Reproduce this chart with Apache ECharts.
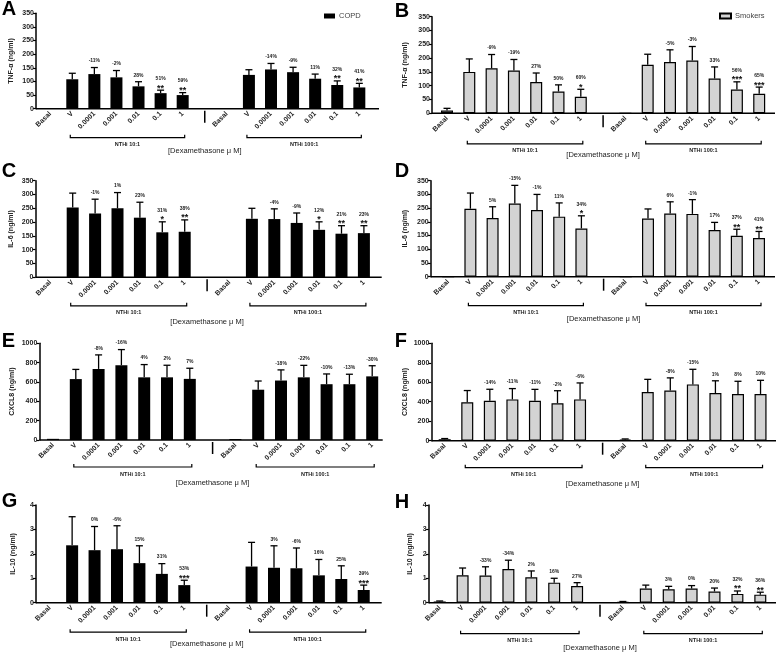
<!DOCTYPE html>
<html><head><meta charset="utf-8">
<script src="https://cdn.jsdelivr.net/npm/echarts@6/dist/echarts.min.js"></script>
<style>html,body{margin:0;padding:0;background:#fff}#c{width:778px;height:653px}</style>
</head><body><div id="c"></div>
<script>
// ---------- data ----------
const categories = ['Basal','V','0.0001','0.001','0.01','0.1','1','','Basal','V','0.0001','0.001','0.01','0.1','1'];
const groupLabels = ['NTHi 10:1', 'NTHi 100:1'];
const xTitle = '[Dexamethasone \u03bc M]';

// A: TNF-alpha, COPD
const A_mean = [0,108,127,115,82,57,50,null,0,124,144,134,110,87,78];
const A_err  = [null,130,151,140,99,68,59,null,null,143,166,152,127,102,93];
const A_pct  = ['','','-11%','-2%','28%','51%','59%','','','','-14%','-9%','11%','32%','41%'];
const A_sig  = ['','','','','','**','**','','','','','','','**','**'];
// B: TNF-alpha, Smokers
const B_mean = [10,150,163,155,113,79,60,null,0,176,186,191,126,86,71];
const B_err  = [18,197,213,195,146,103,87,null,null,214,230,242,168,114,95];
const B_pct  = ['','','-9%','-19%','27%','50%','60%','','','','-5%','-3%','33%','56%','65%'];
const B_sig  = ['','','','','','','*','','','','','','','***','***'];
// C: IL-6, COPD
const C_mean = [0,253,231,250,216,163,165,null,0,212,211,197,172,158,160];
const C_err  = [null,305,283,307,272,201,208,null,null,250,248,233,201,187,187];
const C_pct  = ['','','-1%','1%','23%','31%','38%','','','','-4%','-9%','12%','21%','23%'];
const C_sig  = ['','','','','','*','**','','','','','','*','**','**'];
// D: IL-6, Smokers
const D_mean = [0,248,214,267,243,219,176,null,0,212,230,229,170,149,141];
const D_err  = [null,305,255,333,300,269,222,null,null,247,273,281,198,173,165];
const D_pct  = ['','','5%','-15%','-1%','11%','34%','','','','6%','-1%','17%','37%','41%'];
const D_sig  = ['','','','','','','*','','','','','','','**','**'];
// E: CXCL8, COPD
const E_mean = [12,630,735,773,648,648,632,null,10,520,615,648,577,577,658];
const E_err  = [null,730,880,935,780,773,742,null,null,610,725,772,683,680,768];
const E_pct  = ['','','-8%','-16%','4%','2%','7%','','','','-18%','-22%','-10%','-13%','-30%'];
const E_sig  = ['','','','','','','','','','','','','','',''];
// F: CXCL8, Smokers
const F_mean = [15,395,410,424,409,385,424,null,12,500,515,578,490,480,480];
const F_err  = [22,515,528,535,527,513,593,null,18,630,645,733,615,610,620];
const F_pct  = ['','','-14%','-11%','-11%','-2%','-6%','','','','-8%','-15%','1%','8%','10%'];
const F_sig  = ['','','','','','','','','','','','','','',''];
// G: IL-10, COPD
const G_mean = [0,2.35,2.15,2.19,1.62,1.18,0.72,null,0,1.48,1.43,1.41,1.12,0.97,0.52];
const G_err  = [null,3.52,3.12,3.15,2.33,1.60,0.92,null,null,2.47,2.33,2.24,1.77,1.51,0.72];
const G_pct  = ['','','0%','-6%','15%','31%','53%','','','','3%','-6%','16%','25%','39%'];
const G_sig  = ['','','','','','','***','','','','','','','','***'];
// H: IL-10, Smokers
const H_mean = [0.05,1.12,1.11,1.38,1.04,0.82,0.68,null,0.03,0.58,0.55,0.58,0.46,0.36,0.33];
const H_err  = [0.07,1.42,1.47,1.74,1.30,1.00,0.82,null,0.05,0.72,0.67,0.70,0.60,0.48,0.43];
const H_pct  = ['','','-33%','-34%','2%','16%','27%','','','','3%','0%','20%','32%','36%'];
const H_sig  = ['','','','','','','','','','','','','','**','**'];

const yNames = ['TNF-\u03b1 (ng/ml)','TNF-\u03b1 (ng/ml)','IL-6 (ng/ml)','IL-6 (ng/ml)','CXCL8 (ng/ml)','CXCL8 (ng/ml)','IL-10 (ng/ml)','IL-10 (ng/ml)'];
const yMax = [350,350,350,350,1000,1000,4,4];
const yStep = [50,50,50,50,200,200,1,1];
const letters = ['A','B','C','D','E','F','G','H'];
const groups = ['COPD','Smokers','COPD','Smokers','COPD','Smokers','COPD','Smokers'];

const panels = [
  {mean:A_mean, err:A_err, pct:A_pct, sig:A_sig},
  {mean:B_mean, err:B_err, pct:B_pct, sig:B_sig},
  {mean:C_mean, err:C_err, pct:C_pct, sig:C_sig},
  {mean:D_mean, err:D_err, pct:D_pct, sig:D_sig},
  {mean:E_mean, err:E_err, pct:E_pct, sig:E_sig},
  {mean:F_mean, err:F_err, pct:F_pct, sig:F_sig},
  {mean:G_mean, err:G_err, pct:G_pct, sig:G_sig},
  {mean:H_mean, err:H_err, pct:H_pct, sig:H_sig}
];

// ---------- layout (positions only) ----------
const layout = [
  {axisX:36,    first:50.2,  step:22.08, top:13.3,  zero:108.7, end:379,   gap:21, br:29,   dx:42, lx:1.7,   ly:9.5},
  {axisX:432,   first:447,   step:22.3,  top:16.7,  zero:113.3, end:775,   gap:23, br:30.5, dx:42, lx:394.7, ly:11},
  {axisX:35.5,  first:50.3,  step:22.4,  top:180.7, zero:277.3, end:381.7, gap:21, br:28.5, dx:45, lx:1.7,   ly:171},
  {axisX:430.7, first:448.2, step:22.2,  top:180.7, zero:276.7, end:775,   gap:22, br:29,   dx:42, lx:394.7, ly:171},
  {axisX:39.3,  first:53,    step:22.8,  top:343.3, zero:440,   end:382.7, gap:24, br:27,   dx:43, lx:1.7,   ly:341},
  {axisX:431.3, first:444.7, step:22.56, top:343.3, zero:440.7, end:776,   gap:23, br:27,   dx:43, lx:394.7, ly:341},
  {axisX:36,    first:49.7,  step:22.43, top:505,   zero:602.7, end:381.7, gap:19, br:29.5, dx:41.5, lx:1.7, ly:501},
  {axisX:428.7, first:439.7, step:22.9,  top:505,   zero:602.7, end:776,   gap:15, br:31,   dx:45, lx:394.7, ly:502}
];

const FF = "'Liberation Sans', Arial, sans-serif";
const chart = echarts.init(document.getElementById('c'), null, {renderer:'canvas'});

const grid = [], xAxis = [], yAxis = [], series = [];
panels.forEach((P, i) => {
  const L = layout[i];
  const gl = L.first - L.step / 2;
  grid.push({left: gl, top: L.top, width: 15 * L.step, height: L.zero - L.top, outerBoundsMode: 'none'});
  xAxis.push({
    type:'category', gridIndex:i, data:categories,
    axisLine:{show:false}, axisTick:{show:false},
    axisLabel:{interval:0, rotate:45, fontSize:7, fontWeight:'bold', color:'#222', margin:4, fontFamily:FF}
  });
  yAxis.push({
    type:'value', gridIndex:i, min:0, max:yMax[i], interval:yStep[i], offset: gl - L.axisX,
    splitLine:{show:false},
    axisLine:{show:true, lineStyle:{color:'#000', width:1.5}},
    axisTick:{show:true, length:3, lineStyle:{color:'#000', width:1.2}},
    axisLabel:{fontSize:7, fontWeight:'bold', color:'#222', margin:2, fontFamily:FF, formatter: v => String(v)},
    name: yNames[i], nameLocation:'middle', nameGap: L.gap,
    nameTextStyle:{fontSize:7, fontWeight:'bold', color:'#222', fontFamily:FF}
  });
  const smk = groups[i] === 'Smokers';
  series.push({
    type:'bar', name: groups[i], xAxisIndex:i, yAxisIndex:i, data:P.mean, barWidth:12, silent:true,
    itemStyle:{color: smk ? '#d3d3d3' : '#000', borderColor:'#000', borderWidth: smk ? 1.2 : 0}
  });
  const ed = [];
  P.err.forEach((e, k) => { if (e != null) ed.push([k, P.mean[k], e]); });
  series.push({
    type:'custom', xAxisIndex:i, yAxisIndex:i, data:ed, silent:true, z:5,
    encode:{x:0, y:[1,2]},
    renderItem: (params, api) => {
      const k = api.value(0);
      const p0 = api.coord([k, api.value(1)]);
      const p1 = api.coord([k, api.value(2)]);
      const ch = [
        {type:'line', shape:{x1:p0[0], y1:p0[1], x2:p1[0], y2:p1[1]}, style:{stroke:'#000', lineWidth:1.3}},
        {type:'line', shape:{x1:p1[0]-3.5, y1:p1[1], x2:p1[0]+3.5, y2:p1[1]}, style:{stroke:'#000', lineWidth:1.3}}
      ];
      const s = P.sig[k], t = P.pct[k];
      if (s) ch.push({type:'text', style:{text:s, x:p1[0], y:p1[1]-2, align:'center', verticalAlign:'middle',
        fontSize:9, fontWeight:'bold', fontFamily:FF, fill:'#111'}});
      if (t) ch.push({type:'text', style:{text:t, x:p1[0], y:p1[1] - (s ? 11.5 : 6.5), align:'center', verticalAlign:'middle',
        fontSize:5, fontWeight:'bold', fontFamily:FF, fill:'#222'}});
      return {type:'group', children:ch};
    }
  });
});

chart.setOption({
  animation:false,
  grid, xAxis, yAxis, series,
  legend:[
    {data:['COPD'], left:319, top:7, itemWidth:11, itemHeight:5, itemGap:4, icon:'rect', selectedMode:false,
     textStyle:{fontSize:7.5, color:'#444', fontFamily:FF, padding:[0,0,0,-1]}},
    {data:['Smokers'], left:714, top:7, itemWidth:11, itemHeight:5, itemGap:4, icon:'rect', selectedMode:false,
     textStyle:{fontSize:7.5, color:'#444', fontFamily:FF, padding:[0,0,0,-1]}}
  ]
});

// decorations placed with the library's own scales
const gfx = [];
panels.forEach((P, i) => {
  const L = layout[i];
  const px = (c, v) => chart.convertToPixel({xAxisIndex:i, yAxisIndex:i}, [c, v]);
  const y0 = px(0, 0)[1];
  gfx.push({type:'line', shape:{x1:L.axisX, y1:y0, x2:L.end, y2:y0}, style:{stroke:'#000', lineWidth:1.5}, z:10});
  const xs = px(7, 0)[0];
  gfx.push({type:'line', shape:{x1:xs, y1:y0+2, x2:xs, y2:y0+14}, style:{stroke:'#000', lineWidth:1.5}});
  [[1,6],[9,14]].forEach((g, gi) => {
    const xa = px(g[0], 0)[0] - 2, xb = px(g[1], 0)[0] + 2, yb = y0 + L.br;
    gfx.push({type:'polyline', shape:{points:[[xa, yb-3],[xa, yb],[xb, yb],[xb, yb-3]]},
      style:{stroke:'#000', lineWidth:1.2, fill:null}});
    gfx.push({type:'text', x:(xa+xb)/2, y:yb+7, style:{text:groupLabels[gi], fontSize:5.5, fontWeight:'bold',
      fontFamily:FF, fill:'#222', align:'center', verticalAlign:'middle', textAlign:'center', textVerticalAlign:'middle'}});
  });
  gfx.push({type:'text', x:xs, y:y0 + L.dx, style:{text:xTitle, fontSize:7.5, fontFamily:FF, fill:'#222',
    align:'center', verticalAlign:'middle', textAlign:'center', textVerticalAlign:'middle'}});
  gfx.push({type:'text', x:L.lx, y:L.ly, style:{text:letters[i], fontSize:20, fontWeight:'bold', fontFamily:FF, fill:'#000',
    align:'left', verticalAlign:'middle', textAlign:'left', textVerticalAlign:'middle'}});
});
chart.setOption({graphic:{elements:gfx}});
</script>
</body></html>
